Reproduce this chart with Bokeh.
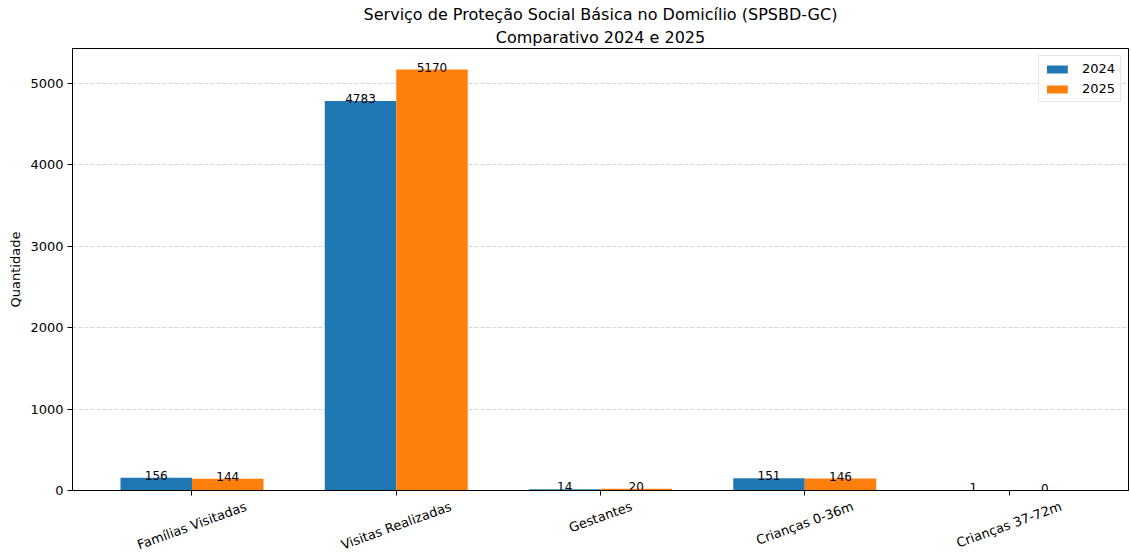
import math
from bokeh.plotting import figure
from bokeh.layouts import column
from bokeh.models import (Range1d, FixedTicker, ColumnDataSource, Title, Legend,
                          LegendItem)
from bokeh.core.properties import value
from bokeh.embed import file_html
from bokeh.resources import INLINE

# ---- data ----
categories = ["Famílias Visitadas", "Visitas Realizadas", "Gestantes",
              "Crianças 0-36m", "Crianças 37-72m"]
values_2024 = [156, 4783, 14, 151, 1]
values_2025 = [144, 5170, 20, 146, 0]
series_names = ["2024", "2025"]
series_colors = ["#1f77b4", "#ff7f0e"]
y_ticks = [0, 1000, 2000, 3000, 4000, 5000]
title_main = "Serviço de Proteção Social Básica no Domicílio (SPSBD-GC)"
title_sub = "Comparativo 2024 e 2025"
y_label = "Quantidade"

FONT = "DejaVu Sans"
bar_w = 0.35
n = len(categories)
xs = list(range(n))

ymax = max(max(values_2024), max(values_2025)) * 1.05
span = (n - 1) + 2 * bar_w
x_range = Range1d(-bar_w - 0.05 * span, (n - 1) + bar_w + 0.05 * span)

W = 1131
TOP, FRAME_H, BOT = 48, 442, 8
H1 = TOP + FRAME_H + BOT
H2 = 552 - H1
LEFT, RIGHT = 72, 3

p = figure(width=W, height=H1, x_range=x_range, y_range=Range1d(0, ymax),
           output_backend="svg", toolbar_location=None,
           min_border_left=LEFT, min_border_right=RIGHT, min_border_top=TOP,
           min_border_bottom=BOT)

# titles (first added is closest to plot)
p.add_layout(Title(text=title_sub, align="center", text_font=FONT,
                   text_font_size="16px", text_font_style="normal",
                   text_color="#000000", standoff=4, offset=0), "above")
p.add_layout(Title(text=title_main, align="center", text_font=FONT,
                   text_font_size="16px", text_font_style="normal",
                   text_color="#000000", standoff=0, offset=0), "above")

renderers = []
for k, (vals, color) in enumerate(zip([values_2024, values_2025], series_colors)):
    shift = -bar_w / 2 if k == 0 else bar_w / 2
    src = ColumnDataSource(dict(x=[i + shift for i in xs], top=vals,
                                label=[str(v) for v in vals]))
    r = p.vbar(x="x", top="top", width=bar_w, bottom=0, source=src,
               fill_color=color, line_color=None)
    renderers.append(r)
    p.text(x="x", y="top", text="label", source=src, text_align="center",
           text_baseline="bottom", y_offset=2, text_font=value(FONT),
           text_font_size="12px", text_color="#000000")

legend = Legend(items=[LegendItem(label=series_names[i], renderers=[renderers[i]])
                       for i in range(2)],
                location="top_right", label_text_font=FONT,
                label_text_font_size="13px", label_text_color="#000000",
                glyph_width=26, glyph_height=10,
                label_standoff=12, label_height=15, spacing=5, padding=5,
                margin=7, border_line_color="#cccccc", border_line_width=1,
                background_fill_alpha=0.8)
p.add_layout(legend)

# axes
p.xaxis.ticker = FixedTicker(ticks=xs)
p.xaxis.major_label_overrides = {i: "" for i in xs}
p.xaxis.major_label_text_font_size = "0px"
p.xaxis.major_label_standoff = 0
p.xaxis.minor_tick_line_color = None
p.xaxis.major_tick_out = 5
p.xaxis.major_tick_in = 0
p.yaxis.ticker = FixedTicker(ticks=y_ticks)
p.yaxis.minor_tick_line_color = None
p.yaxis.major_tick_out = 5
p.yaxis.major_tick_in = 0
p.yaxis.major_label_standoff = 4
p.yaxis.major_label_text_font = FONT
p.yaxis.major_label_text_font_size = "13px"
p.yaxis.major_label_text_color = "#000000"
p.yaxis.axis_label = y_label
p.yaxis.axis_label_text_font = FONT
p.yaxis.axis_label_text_font_size = "13px"
p.yaxis.axis_label_text_font_style = "normal"
p.yaxis.axis_label_text_color = "#000000"
p.yaxis.axis_label_standoff = 4
for ax in (p.xaxis, p.yaxis):
    ax.axis_line_color = "#000000"
    ax.major_tick_line_color = "#000000"

p.xgrid.grid_line_color = None
p.ygrid.grid_line_color = "#b0b0b0"
p.ygrid.grid_line_alpha = 0.55
p.ygrid.grid_line_dash = "4 2"
p.outline_line_color = "#000000"
p.outline_line_alpha = 1.0

# ---- strip below the chart for the rotated category labels ----
p2 = figure(width=W, height=H2, x_range=x_range, y_range=Range1d(0, 1),
            output_backend="svg", toolbar_location=None,
            x_axis_type=None, y_axis_type=None,
            min_border_left=LEFT, min_border_right=RIGHT, min_border_top=0,
            min_border_bottom=0)
p2.outline_line_color = None
p2.grid.visible = False

# approximate DejaVu Sans advance widths (per em) to centre rotated labels
_w = {"a": .613, "e": .615, "i": .278, "l": .278, "s": .521, "t": .392,
      "d": .635, "m": .974, "n": .634, "o": .612, "r": .411, "z": .525,
      "ç": .550, "c": .550, "í": .278, " ": .318, "F": .575, "V": .684,
      "R": .695, "G": .775, "C": .698, "-": .361}
ang = math.radians(20)
fs = 13
offs = []
for cat in categories:
    w = sum(_w.get(ch, .636) for ch in cat) * fs
    offs.append(15.2 + w * math.sin(ang) / 2 - BOT)
src_lab = ColumnDataSource(dict(x=xs, y=[1] * n, text=categories, off=offs))
p2.text(x="x", y="y", text="text", source=src_lab, y_offset="off",
        angle=20, angle_units="deg", text_align="center",
        text_baseline="middle", text_font=value(FONT),
        text_font_size="13px", text_color="#000000")

layout = column(p, p2, spacing=0)
open("out.html", "w").write(file_html(layout, INLINE))
